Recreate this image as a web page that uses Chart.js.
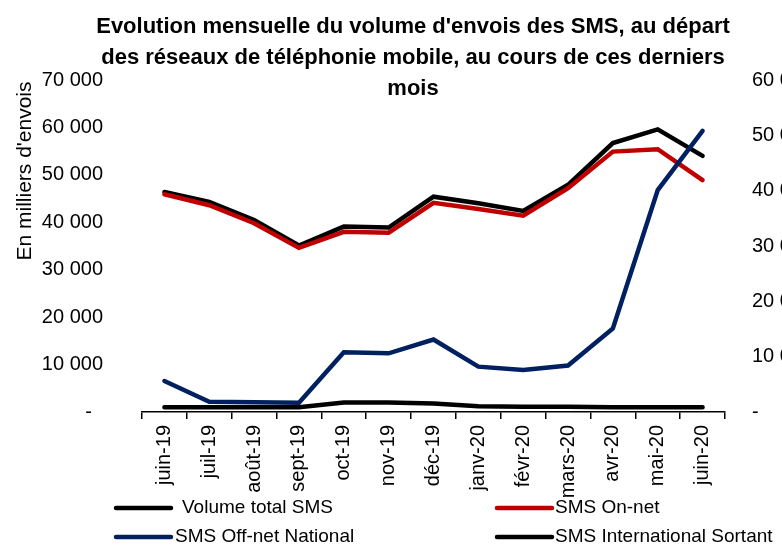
<!DOCTYPE html>
<html>
<head>
<meta charset="utf-8">
<script src="https://cdn.jsdelivr.net/npm/chart.js@4/dist/chart.umd.min.js"></script>
<style>
html,body{margin:0;padding:0;overflow:hidden;background:#fff;width:782px;height:546px;}
#wrap{width:782px;height:546px;overflow:hidden;position:relative;}
canvas{display:block;}
</style>
</head>
<body>
<div id="wrap"><canvas id="c" width="860" height="546"></canvas></div>
<script>
const categories = ['juin-19','juil-19','août-19','sept-19','oct-19','nov-19','déc-19','janv-20','févr-20','mars-20','avr-20','mai-20','juin-20'];
const volumeTotal = [46400, 44300, 40500, 35100, 39100, 38900, 45400, 44000, 42400, 47900, 56700, 59600, 54000];
const smsOnNet = [45900, 43600, 39800, 34600, 38000, 37800, 44100, 42800, 41400, 47200, 54900, 55400, 48900];
const smsOffNetNational = [5600, 1860, 1750, 1680, 10800, 10600, 13100, 8200, 7600, 8400, 15100, 40100, 50800];
const smsInternationalSortant = [1000, 1000, 1000, 1000, 2000, 2000, 1800, 1200, 1100, 1100, 1000, 1000, 1000];
const titleLines = ["Evolution mensuelle du volume d'envois des SMS, au départ", "des réseaux de téléphonie mobile, au cours de ces derniers", "mois"];
const yTitle = "En milliers d'envois";
const legendItems = [
  {label:'Volume total SMS', color:'#000000'},
  {label:'SMS On-net', color:'#C00000'},
  {label:'SMS Off-net National', color:'#002060'},
  {label:'SMS International Sortant', color:'#000000'}
];

const FONT = "'Liberation Sans', Arial, sans-serif";
const W = 860, AREA_LEFT = 142, AREA_RIGHT = 725, AREA_TOP = 80, AREA_BOTTOM = 412;

function fmt(v){ if (v === 0) return null; return (v/1000) + ' 000'; }

const decor = {
  id:'decor',
  afterDraw(chart){
    const ctx = chart.ctx;
    ctx.save();
    // title
    ctx.fillStyle = '#000';
    ctx.font = "bold 22px " + FONT;
    ctx.textAlign = 'center';
    ctx.textBaseline = 'alphabetic';
    const bases = [33, 64, 95];
    titleLines.forEach((t,i)=>ctx.fillText(t, 413, bases[i]));
    // y title
    ctx.save();
    ctx.translate(31, 171);
    ctx.rotate(-Math.PI/2);
    ctx.font = "21px " + FONT;
    ctx.textAlign = 'center';
    ctx.fillText(yTitle, 0, 0);
    ctx.restore();
    // legend
    const pos = [
      {lx:116, tx:182, y:508},
      {lx:497, tx:555, y:508},
      {lx:116, tx:175, y:537},
      {lx:497, tx:555, y:537}
    ];
    ctx.font = "19px " + FONT;
    ctx.textAlign = 'left';
    ctx.textBaseline = 'middle';
    legendItems.forEach((it,i)=>{
      const p = pos[i];
      ctx.strokeStyle = it.color;
      ctx.lineWidth = 4.5;
      ctx.lineCap = 'round';
      ctx.beginPath();
      ctx.moveTo(p.lx, p.y);
      ctx.lineTo(p.lx + 55, p.y);
      ctx.stroke();
      ctx.fillStyle = '#000';
      ctx.fillText(it.label, p.tx, p.y);
    });
    ctx.restore();
  }
};

function ds(label, data, color, axis, order){
  return {label, data, borderColor:color, backgroundColor:color, yAxisID:axis, order,
    borderWidth:4.5, pointRadius:0, pointHoverRadius:0, tension:0,
    borderCapStyle:'round', borderJoinStyle:'miter', fill:false};
}

new Chart(document.getElementById('c'), {
  type:'line',
  data:{
    labels: categories,
    datasets:[
      ds('Volume total SMS', volumeTotal, '#000000', 'y', 4),
      ds('SMS On-net', smsOnNet, '#C00000', 'y', 3),
      ds('SMS Off-net National', smsOffNetNational, '#002060', 'y1', 2),
      ds('SMS International Sortant', smsInternationalSortant, '#000000', 'y', 1)
    ]
  },
  options:{
    responsive:false,
    animation:false,
    events:[],
    layout:{padding:{top:AREA_TOP, bottom:0, left:0, right:0}},
    plugins:{legend:{display:false}, title:{display:false}, tooltip:{enabled:false}},
    scales:{
      x:{
        type:'category',
        offset:true,
        grid:{display:true, drawOnChartArea:false, drawTicks:true, tickLength:7, offset:true, color:'#000', lineWidth:1.5},
        border:{display:true, color:'#000', width:1.5},
        ticks:{autoSkip:false, minRotation:90, maxRotation:90, padding:6, color:'#000', font:{family:FONT, size:20}},
        afterFit(s){ s.height = 546 - AREA_BOTTOM; }
      },
      y:{
        position:'left', min:0, max:70000,
        grid:{display:false, drawTicks:false, tickLength:0},
        border:{display:false},
        ticks:{stepSize:10000, padding:39, color:'#000', font:{family:FONT, size:20},
          callback:(v)=> v===0 ? '-\u2007' : fmt(v)},
        afterFit(s){ s.width = AREA_LEFT; }
      },
      y1:{
        position:'right', min:0, max:60000,
        grid:{display:false, drawTicks:false, tickLength:0},
        border:{display:false},
        ticks:{stepSize:10000, padding:27, color:'#000', font:{family:FONT, size:20},
          callback:(v)=> v===0 ? '-' : fmt(v)},
        afterFit(s){ s.width = W - AREA_RIGHT; }
      }
    }
  },
  plugins:[decor]
});
</script>
</body>
</html>
